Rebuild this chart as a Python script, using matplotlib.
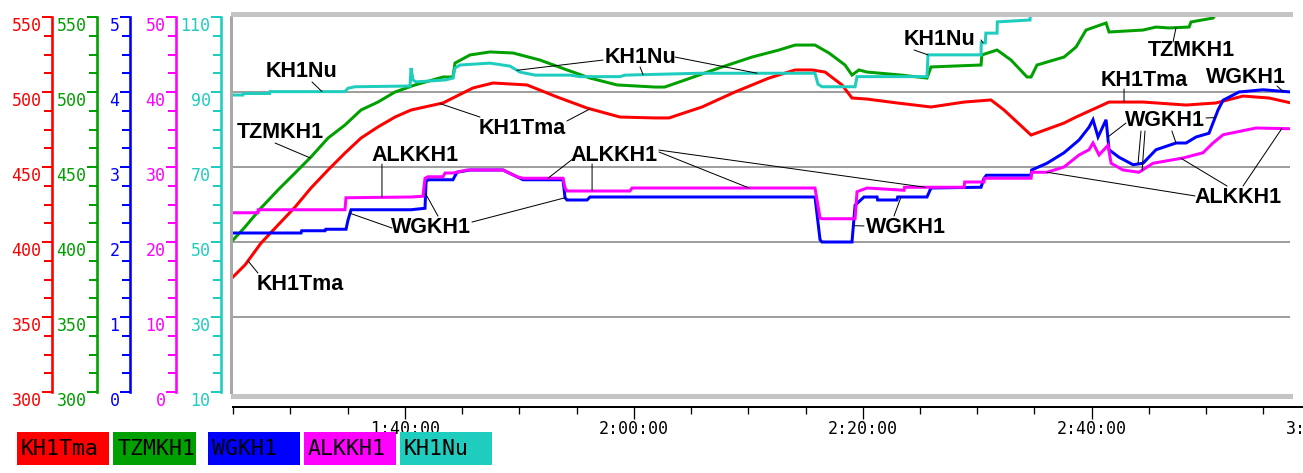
import numpy as np
import matplotlib
matplotlib.use("Agg")
import matplotlib.pyplot as plt
from matplotlib.patches import Rectangle
from matplotlib.ticker import FixedLocator, FuncFormatter, NullFormatter

W, H, DPI = 1303, 473, 100

# ---------------------------------------------------------------- data
# time stamps are minutes after midnight (85.0 == 1:25:00)
kh1tma_t = [85.0, 86.05, 87.45, 88.93, 90.42, 91.81, 93.30, 94.78, 96.18, 97.66,
            99.15, 100.55, 103.34, 105.96, 107.71, 110.68,
            113.30, 115.92, 118.80, 121.86, 123.08, 125.96, 128.84, 131.81, 134.09, 135.57,
            136.71, 138.19, 139.06, 140.37, 142.99, 145.96, 148.85, 151.20, 152.34, 154.70,
            157.58, 158.63, 161.51, 164.48, 168.24, 170.86, 173.21, 175.48, 177.41]
kh1tma_v = [376.7, 384.7, 399.3, 411.3, 423.3, 436.0, 448.0, 459.3, 469.3, 476.7,
            483.3, 488.0, 492.7, 502.7, 506.0, 504.7,
            496.7, 489.3, 483.3, 482.7, 482.7, 490.0, 500.0, 509.3, 514.7, 514.7,
            513.3, 504.7, 496.0, 495.3, 492.7, 490.0, 493.3, 494.7, 488.0, 471.3,
            479.3, 483.3, 493.3, 493.3, 491.3, 492.7, 497.3, 496.0, 492.7]

tzmkh1_t = [85.0, 86.05, 87.45, 88.93, 90.42, 91.81, 93.30, 94.78, 96.18, 97.66,
            99.15, 100.90, 103.34, 104.21, 104.39,
            105.70, 107.45, 109.46, 111.81, 114.17, 116.18, 118.54, 121.86, 122.70, 124.48,
            127.45, 130.33, 132.69, 134.09, 135.83, 137.05, 138.45, 139.06, 139.67, 140.37,
            143.34, 145.61, 145.96, 150.33, 150.40, 151.73, 152.95, 154.35, 154.70, 155.22,
            157.58, 158.63, 159.50, 161.25, 161.51, 164.48, 165.61, 166.75, 168.50, 168.67,
            170.59, 170.86]
tzmkh1_v = [401.3, 410.0, 422.7, 434.7, 446.0, 456.7, 469.3, 478.0, 488.0, 493.3,
            500.0, 504.7, 510.0, 510.0, 519.3,
            524.7, 526.7, 526.0, 521.3, 514.7, 509.3, 504.7, 503.3, 503.3, 508.0,
            516.0, 523.3, 528.0, 531.3, 531.3, 526.0, 518.0, 511.3, 514.7, 513.3,
            511.3, 509.3, 516.7, 518.0, 524.7, 528.0, 521.3, 510.0, 510.0, 518.0,
            523.3, 530.0, 541.3, 546.0, 540.0, 541.3, 543.3, 542.7, 543.3, 546.7,
            549.3, 552.0]

wgkh1_t = [85.0, 90.94, 91.0, 93.04, 93.1, 94.87, 95.04, 95.31, 100.55, 101.77,
           101.86, 102.03, 104.21, 104.56, 105.70, 108.58, 110.07, 110.33, 113.82, 114.00,
           114.17, 115.92, 116.18, 135.83, 136.27, 136.44, 139.06, 139.33, 140.11, 141.25,
           141.30, 142.99, 143.05, 145.61, 145.96, 150.33, 150.59, 150.80, 154.70, 154.75,
           156.09, 157.58, 158.89, 159.76, 160.11, 160.55, 161.25, 161.51, 162.38, 163.61,
           164.48, 165.61, 167.36, 168.24, 169.11, 170.24, 171.03, 171.47, 172.86, 174.96,
           177.41]
wgkh1_v = [2.12, 2.12, 2.15, 2.15, 2.17, 2.17, 2.29, 2.43, 2.43, 2.45,
           2.80, 2.83, 2.83, 2.93, 2.96, 2.96, 2.85, 2.83, 2.83, 2.59,
           2.56, 2.56, 2.60, 2.60, 2.03, 2.00, 2.00, 2.49, 2.60, 2.60,
           2.56, 2.56, 2.60, 2.60, 2.72, 2.73, 2.85, 2.89, 2.89, 2.96,
           3.05, 3.19, 3.36, 3.53, 3.63, 3.40, 3.63, 3.23, 3.13, 3.03,
           3.05, 3.23, 3.32, 3.32, 3.40, 3.45, 3.76, 3.89, 4.00, 4.03,
           4.00]

alkkh1_t = [85.0, 87.18, 87.2, 94.78, 94.87, 100.55, 101.59, 101.77, 102.03, 103.34,
            103.52, 104.21, 105.44, 108.58, 109.80, 110.33, 113.82, 114.00, 114.17, 119.67,
            119.85, 135.83, 136.27, 136.44, 139.33, 139.50, 140.37, 143.61, 143.65, 148.85,
            148.90, 150.59, 150.65, 154.70, 154.75, 156.09, 157.58, 158.89, 159.76, 160.11,
            160.64, 161.42, 161.69, 162.73, 164.13, 165.35, 167.97, 169.72, 170.59, 171.47,
            174.35, 177.41]
alkkh1_v = [23.9, 23.9, 24.3, 24.3, 25.9, 26.0, 26.1, 28.5, 28.7, 28.7,
            29.2, 29.2, 29.6, 29.6, 28.7, 28.5, 28.5, 27.2, 26.8, 26.8,
            27.2, 27.2, 23.2, 23.1, 23.1, 26.7, 27.2, 26.9, 27.3, 27.3,
            28.0, 28.0, 28.5, 28.5, 29.3, 29.3, 30.0, 31.6, 32.3, 33.2,
            31.6, 32.9, 30.5, 29.6, 29.3, 30.5, 31.2, 31.9, 33.2, 34.3,
            35.2, 35.1]

kh1nu_t = [85.0, 85.87, 85.9, 88.2, 88.23, 94.78, 95.04, 95.66, 100.46, 100.55,
           100.72, 100.98, 103.52, 104.21, 104.39, 104.83, 107.45, 109.19, 110.07, 111.38,
           114.43, 115.31, 118.80, 119.24, 125.79, 135.83, 136.09, 136.44, 139.33, 139.50,
           145.61, 145.70, 150.33, 150.35, 150.70, 150.75, 151.73, 151.75, 154.61, 154.70]
kh1nu_v = [89.2, 89.2, 89.6, 89.6, 90.1, 90.1, 91.0, 91.4, 91.6, 96.4,
           93.2, 92.7, 93.2, 93.7, 96.4, 97.2, 97.7, 96.9, 95.3, 94.5,
           94.5, 94.1, 94.1, 94.5, 95.0, 95.0, 92.1, 91.4, 91.4, 94.1,
           94.1, 99.9, 99.9, 103.1, 103.1, 105.7, 105.7, 108.7, 109.2, 113.2]

series_names = ["KH1Tma", "TZMKH1", "WGKH1", "ALKKH1", "KH1Nu"]
series_colors = ["#FF0000", "#00A000", "#0000FF", "#FF00FF", "#1ECDBE"]
scale_ranges = [(300, 550), (300, 550), (0, 5), (0, 50), (10, 110)]
scale_major = [50, 50, 1, 10, 20]
scale_minor = [12.5, 12.5, 0.25, 2.5, 5]

time_major = [100, 120, 140, 160, 180]
grid_values = [350, 400, 450, 500]

# callout labels: text, time, position on the KH1Tma scale
callouts = [
    ("KH1Nu", 90.98, 513.7), ("TZMKH1", 89.10, 472.7), ("KH1Tma", 90.85, 372.0),
    ("ALKKH1", 100.90, 458.0), ("WGKH1", 102.29, 410.0), ("KH1Tma", 110.24, 476.0),
    ("KH1Nu", 120.60, 523.3), ("ALKKH1", 118.28, 458.0), ("WGKH1", 143.78, 410.0),
    ("KH1Nu", 146.66, 534.7), ("TZMKH1", 168.67, 528.0), ("KH1Tma", 164.57, 508.0),
    ("WGKH1", 173.47, 510.0), ("WGKH1", 166.40, 480.7), ("ALKKH1", 172.78, 430.0),
]
# leader lines: series, start (time, KH1Tma scale), time of the point on the series
leaders = [
    ("KH1Nu", 91.90, 506.7, 92.77), ("TZMKH1", 88.67, 466.0, 91.73),
    ("KH1Tma", 87.18, 379.3, 86.31), ("ALKKH1", 98.01, 452.0, 98.01),
    ("WGKH1", 98.89, 409.3, 95.22), ("WGKH1", 102.90, 417.3, 101.82),
    ("WGKH1", 105.87, 413.3, 114.00), ("KH1Tma", 106.57, 483.3, 103.08),
    ("KH1Tma", 114.17, 480.7, 116.18), ("KH1Nu", 117.32, 521.3, 109.80),
    ("KH1Nu", 120.55, 516.7, 120.81), ("KH1Nu", 123.60, 523.3, 130.77),
    ("ALKKH1", 114.78, 456.0, 112.51), ("ALKKH1", 116.36, 452.0, 116.36),
    ("ALKKH1", 122.20, 460.0, 130.07), ("ALKKH1", 122.20, 461.3, 145.44),
    ("WGKH1", 140.11, 410.7, 139.18), ("WGKH1", 142.73, 417.3, 143.34),
    ("KH1Nu", 150.33, 534.7, 150.50), ("KH1Nu", 144.48, 528.0, 145.70),
    ("TZMKH1", 167.10, 533.3, 167.36), ("KH1Tma", 162.82, 502.0, 162.82),
    ("WGKH1", 176.18, 504.0, 176.70), ("WGKH1", 162.99, 479.3, 161.40),
    ("WGKH1", 164.30, 474.0, 164.04), ("ALKKH1", 164.65, 474.0, 164.40),
    ("WGKH1", 167.00, 474.0, 167.36), ("WGKH1", 169.98, 482.7, 170.77),
    ("ALKKH1", 169.02, 430.7, 156.09), ("ALKKH1", 171.82, 437.3, 167.80),
    ("ALKKH1", 173.21, 437.3, 176.60),
]

series_t = [kh1tma_t, tzmkh1_t, wgkh1_t, alkkh1_t, kh1nu_t]
series_v = [kh1tma_v, tzmkh1_v, wgkh1_v, alkkh1_v, kh1nu_v]

# ---------------------------------------------------------------- layout helpers
PT = 72.0 / DPI  # points per pixel


def fx(px):
    return px / W


def fy(py):
    return 1 - py / H


fig = plt.figure(figsize=(W / DPI, H / DPI), dpi=DPI, facecolor="white")

plot_left, plot_right, plot_top, plot_bot = 233, 1290, 17, 392
px_per_min = 229 / 20.0
t0 = 85.0

# main plot area (KH1Tma / TZMKH1 scale)
ax = fig.add_axes([fx(plot_left), fy(plot_bot), (plot_right - plot_left) / W,
                   (plot_bot - plot_top) / H])
ax.set_xlim(t0, t0 + (plot_right - plot_left) / px_per_min)
ax.set_ylim(*scale_ranges[0])
ax.set_yticks(grid_values)
ax.tick_params(axis="both", length=0, labelleft=False, labelbottom=False)
ax.grid(axis="y", color="#959595", lw=1.3 * PT * 1.39)
ax.set_axisbelow(True)
ax.spines["right"].set_visible(False)
for side, off, lw, col in [("top", 3, 5, "#C4C4C4"), ("bottom", 4, 5, "#C4C4C4"),
                           ("left", 2, 3, "#A8A8A8")]:
    ax.spines[side].set_position(("outward", off * PT))
    ax.spines[side].set_linewidth(lw * PT)
    ax.spines[side].set_color(col)

# twin axes for the other scales, sharing time
ax_wg = ax.twinx()
ax_al = ax.twinx()
ax_nu = ax.twinx()
axes_for = {"KH1Tma": ax, "TZMKH1": ax, "WGKH1": ax_wg, "ALKKH1": ax_al, "KH1Nu": ax_nu}
for a, rng in [(ax_wg, scale_ranges[2]), (ax_al, scale_ranges[3]), (ax_nu, scale_ranges[4])]:
    a.set_ylim(*rng)
    a.axis("off")

order = [0, 1, 3, 2, 4]
for i in order:
    name = series_names[i]
    axes_for[name].plot(series_t[i], series_v[i], color=series_colors[i],
                        lw=3 * PT, solid_joinstyle="miter", zorder=3)

# callout texts and leader lines (drawn on the top-most axes)
for text, t, v in callouts:
    ax_nu.text(t, v, text, transform=ax.transData, ha="center", va="center",
               fontsize=15.5, fontweight="bold",
               family=["Liberation Sans", "DejaVu Sans"], color="black", zorder=5)

idx = {n: i for i, n in enumerate(series_names)}
for name, ts, vs, tt in leaders:
    i = idx[name]
    vt = float(np.interp(tt, series_t[i], series_v[i]))
    ax_nu.annotate("", xy=(tt, vt), xycoords=axes_for[name].transData,
                   xytext=(ts, vs), textcoords=ax.transData,
                   arrowprops=dict(arrowstyle="-", color="black", lw=1.0 * PT,
                                   shrinkA=0, shrinkB=0))

# colored value scales on the left
scale_x = [51.5, 96.5, 129.5, 175.5, 220.5]
for i in range(5):
    lo, hi = scale_ranges[i]
    sa = fig.add_axes([fx(scale_x[i]), fy(plot_bot), 0.4 / W, (plot_bot - plot_top) / H])
    sa.set_ylim(lo, hi)
    sa.patch.set_visible(False)
    for s in ["top", "right", "bottom"]:
        sa.spines[s].set_visible(False)
    sa.spines["left"].set_color(series_colors[i])
    sa.spines["left"].set_linewidth(2.6 * PT)
    sa.set_xticks([])
    sa.yaxis.set_major_locator(FixedLocator(np.arange(lo, hi + 1e-9, scale_major[i])))
    sa.yaxis.set_minor_locator(FixedLocator(np.arange(lo, hi + 1e-9, scale_minor[i])))
    sa.yaxis.set_major_formatter(FuncFormatter(lambda v, p: f"{v:g}"))
    sa.yaxis.set_minor_formatter(NullFormatter())
    sa.tick_params(axis="y", which="major", length=10 * PT, width=2 * PT,
                   color=series_colors[i], labelcolor=series_colors[i],
                   labelsize=12, pad=0, labelfontfamily="DejaVu Sans Mono")
    sa.tick_params(axis="y", which="minor", length=8 * PT, width=2 * PT,
                   color=series_colors[i])
    for lab in sa.get_yticklabels():
        lab.set_verticalalignment("top")

# time axis below the plot
axis_y = 407
x_end = 1350
ax_t = fig.add_axes([fx(plot_left), fy(axis_y), (x_end - plot_left) / W, 0.4 / H])
ax_t.set_xlim(t0, t0 + (x_end - plot_left) / px_per_min)
ax_t.patch.set_visible(False)
for s in ["top", "left", "right"]:
    ax_t.spines[s].set_visible(False)
ax_t.spines["bottom"].set_linewidth(2 * PT)
ax_t.set_yticks([])
ax_t.xaxis.set_major_locator(FixedLocator(time_major))
ax_t.xaxis.set_minor_locator(FixedLocator(np.arange(85, 186, 5)))
ax_t.xaxis.set_major_formatter(
    FuncFormatter(lambda m, p: f"{int(m // 60)}:{int(m % 60):02d}:00"))
ax_t.tick_params(axis="x", which="major", direction="out", length=12 * PT,
                 width=1.3 * PT, labelsize=12, pad=1, labelfontfamily="DejaVu Sans Mono")
ax_t.tick_params(axis="x", which="minor", direction="out", length=7 * PT, width=1.3 * PT)

# legend strip
legend_boxes = [(17, 109), (113, 196), (208, 300), (304, 396), (400, 492)]
ly0, ly1 = 432, 465
for (x0, x1), name, col in zip(legend_boxes, series_names, series_colors):
    fig.add_artist(Rectangle((fx(x0), fy(ly1)), (x1 - x0) / W, (ly1 - ly0) / H,
                             transform=fig.transFigure, facecolor=col, edgecolor="none"))
    fig.text(fx(x0 + 4), fy((ly0 + ly1) / 2), name, ha="left", va="center",
             fontsize=15.5, family="DejaVu Sans Mono", color="black")

fig.savefig("out.png", dpi=DPI, facecolor="white")
